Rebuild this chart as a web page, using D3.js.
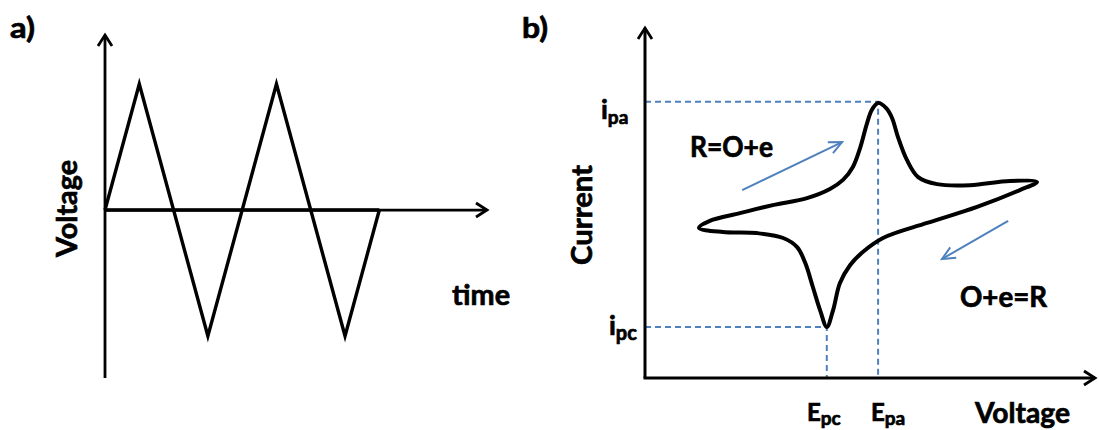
<!DOCTYPE html>
<html>
<head>
<meta charset="utf-8">
<script src="https://cdn.jsdelivr.net/npm/d3@7"></script>
<style>
  body { margin: 0; background: #fff; }
  text { font-family: Lato, "Open Sans", sans-serif; font-weight: bold; fill: #000;
         stroke: #000; stroke-width: 0.7px; }
</style>
</head>
<body>
<div id="chart"></div>
<script>
// panel a: triangular sweep (time in quarter periods, voltage in amplitudes)
var sweep_t = [0, 1, 3, 5, 7, 8];
var sweep_v = [0, 1, -1, 1, -1, 0];

// panel b: cyclic voltammogram, potential and current in arbitrary units
var cv_e = [0.120, 0.144, 0.211, 0.284, 0.360, 0.411, 0.440, 0.462, 0.478, 0.493, 0.504, 0.518,
            0.536, 0.549, 0.562, 0.582, 0.607, 0.649, 0.722, 0.811, 0.871,
            0.833, 0.738, 0.627, 0.529, 0.484, 0.456, 0.433, 0.418, 0.404,
            0.389, 0.373, 0.356, 0.338, 0.307, 0.249, 0.173];
var cv_i = [0.429, 0.449, 0.471, 0.494, 0.514, 0.540, 0.566, 0.603, 0.657, 0.726, 0.766, 0.786,
            0.771, 0.743, 0.689, 0.623, 0.574, 0.554, 0.551, 0.563, 0.560,
            0.537, 0.489, 0.443, 0.400, 0.360, 0.323, 0.271, 0.194, 0.146,
            0.194, 0.260, 0.329, 0.374, 0.400, 0.414, 0.417];

// peak positions (cathodic, anodic)
var peak_names = ["pc", "pa"];
var peak_e = [0.404, 0.518];
var peak_i = [0.146, 0.789];

// scan direction arrows [E, I]
var arrow_from = [[0.216, 0.537], [0.807, 0.449]];
var arrow_to = [[0.438, 0.674], [0.660, 0.340]];

var blue = "#4f81bd";
var width = 1099, height = 430;

var svg = d3.select("#chart")
  .append("svg")
  .attr("width", width)
  .attr("height", height);

var defs = svg.append("defs");
defs.append("marker")
  .attr("id", "head-black")
  .attr("markerUnits", "userSpaceOnUse")
  .attr("orient", "auto")
  .attr("overflow", "visible")
  .attr("refX", 0).attr("refY", 0)
  .append("path")
  .attr("d", "M-11,-7L0,0L-11,7")
  .attr("fill", "none")
  .attr("stroke", "#000")
  .attr("stroke-width", 2.8);

defs.append("marker")
  .attr("id", "head-blue")
  .attr("markerUnits", "userSpaceOnUse")
  .attr("orient", "auto")
  .attr("overflow", "visible")
  .attr("refX", 0).attr("refY", 0)
  .append("path")
  .attr("d", "M-13,-6L0,0L-13,6")
  .attr("fill", "none")
  .attr("stroke", blue)
  .attr("stroke-width", 2);

function label(x, y, str, size, len, rotate) {
  var t = svg.append("text")
    .attr("font-size", size)
    .attr("transform", "translate(" + x + "," + y + ")" + (rotate ? " rotate(-90)" : ""))
    .text(str);
  if (len) t.attr("textLength", len).attr("lengthAdjust", "spacingAndGlyphs");
  return t;
}

function sublabel(x, y, main, sub, size, subsize, drop) {
  var t = svg.append("text")
    .attr("x", x).attr("y", y)
    .attr("font-size", size);
  t.append("tspan").text(main);
  t.append("tspan").attr("font-size", subsize).attr("dy", drop).text(sub);
}

// ---------- panel a ----------
var xA = d3.scaleLinear().domain([0, 11.14]).range([105, 487]);
var yA = d3.scaleLinear().domain([-1.333, 1.389]).range([378, 35]);

// axes
svg.append("line")
  .attr("x1", xA(0)).attr("x2", xA(0))
  .attr("y1", yA.range()[0]).attr("y2", yA.range()[1])
  .attr("stroke", "#000").attr("stroke-width", 2.8)
  .attr("marker-end", "url(#head-black)");
svg.append("line")
  .attr("x1", xA(0)).attr("x2", xA.range()[1])
  .attr("y1", yA(0)).attr("y2", yA(0))
  .attr("stroke", "#000").attr("stroke-width", 2.8)
  .attr("marker-end", "url(#head-black)");

var sweep = d3.zip(sweep_t, sweep_v);
var lineA = d3.line().x(d => xA(d[0])).y(d => yA(d[1]));
svg.append("path")
  .datum(sweep)
  .attr("d", lineA)
  .attr("fill", "none")
  .attr("stroke", "#000")
  .attr("stroke-width", 3.4)
  .attr("stroke-linejoin", "miter");
// zero baseline under the sweep drawn a bit heavier
svg.append("path")
  .datum([sweep[0], sweep[sweep.length - 1]])
  .attr("d", lineA)
  .attr("stroke", "#000")
  .attr("stroke-width", 3.6);

label(10, 38, "a)", 29, 25);
label(77, 257, "Voltage", 29, 97, true);
label(452, 305, "time", 29, 58);

// ---------- panel b ----------
var xB = d3.scaleLinear().domain([0, 1]).range([645, 1095]);
var yB = d3.scaleLinear().domain([0, 1]).range([378, 28]);

// dashed peak guides
peak_e.forEach(function (e, k) {
  svg.append("path")
    .attr("d", "M" + xB(0) + "," + yB(peak_i[k]) + "H" + xB(e) + "V" + yB(0))
    .attr("fill", "none")
    .attr("stroke", blue)
    .attr("stroke-width", 2)
    .attr("stroke-dasharray", "6,4");
});

svg.append("line")
  .attr("x1", xB(0)).attr("x2", xB(0))
  .attr("y1", yB(0)).attr("y2", yB(1))
  .attr("stroke", "#000").attr("stroke-width", 3)
  .attr("marker-end", "url(#head-black)");
svg.append("line")
  .attr("x1", xB(0) - 1.5).attr("x2", xB(1))
  .attr("y1", yB(0)).attr("y2", yB(0))
  .attr("stroke", "#000").attr("stroke-width", 3)
  .attr("marker-end", "url(#head-black)");

var cv = d3.zip(cv_e, cv_i);
svg.append("path")
  .datum(cv)
  .attr("d", d3.line()
    .x(d => xB(d[0]))
    .y(d => yB(d[1]))
    .curve(d3.curveCatmullRomClosed.alpha(0.5)))
  .attr("fill", "none")
  .attr("stroke", "#000")
  .attr("stroke-width", 4)
  .attr("stroke-linejoin", "round");

// scan direction arrows
arrow_from.forEach(function (a, k) {
  svg.append("line")
    .attr("x1", xB(a[0])).attr("y1", yB(a[1]))
    .attr("x2", xB(arrow_to[k][0])).attr("y2", yB(arrow_to[k][1]))
    .attr("stroke", blue)
    .attr("stroke-width", 2)
    .attr("marker-end", "url(#head-blue)");
});

label(522, 38, "b)", 29, 26);
label(592, 265, "Current", 29, 100, true);
label(690, 157, "R=O+e", 28, 83);
label(960, 307, "O+e=R", 28, 87);
label(975, 423, "Voltage", 29, 95);

// peak labels: i on the current axis, E on the potential axis
sublabel(601, 119, "i", peak_names[1], 27, 19, 5);
sublabel(609, 335, "i", peak_names[0], 27, 20, 5);
sublabel(807, 421, "E", peak_names[0], 24, 19, 4);
sublabel(871, 421, "E", peak_names[1], 24, 19, 4);
</script>
</body>
</html>
